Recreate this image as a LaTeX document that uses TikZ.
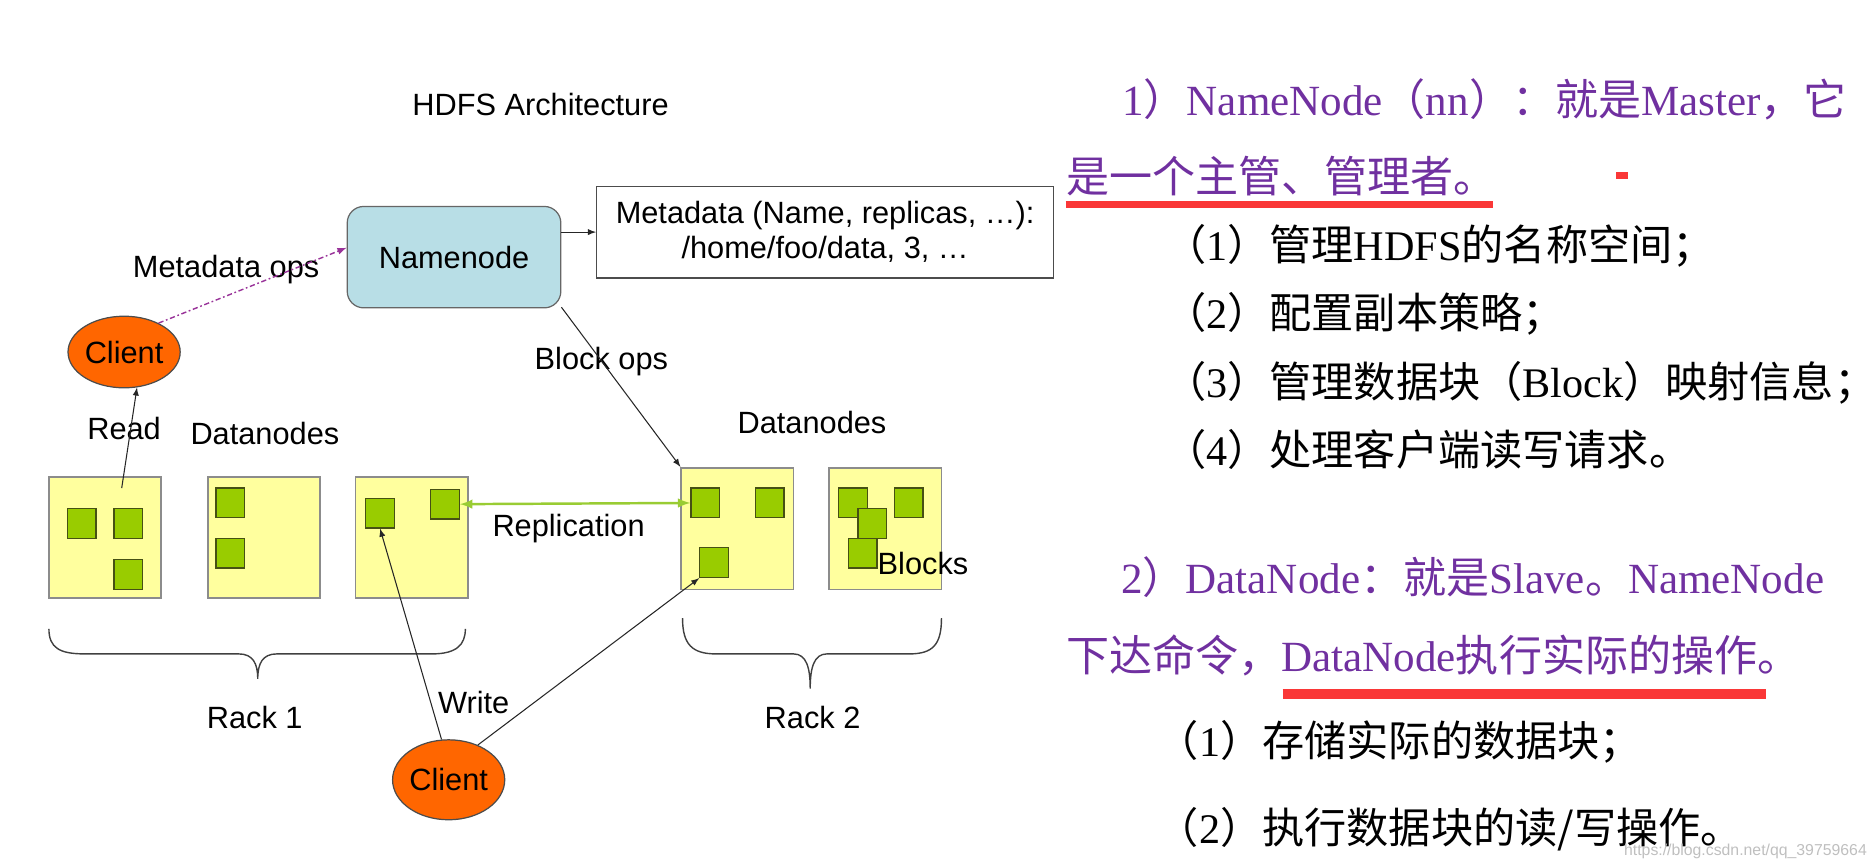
\documentclass[tikz,border=0pt]{standalone}
\usepackage{fontspec}
\setmainfont{Liberation Serif}
\setsansfont{Liberation Sans}
\newfontfamily\cjk{Noto Sans CJK SC}
\usepackage{xcolor}
\usetikzlibrary{arrows,shapes.geometric}
\definecolor{nnblue}{RGB}{184,222,230}
\definecolor{dnyellow}{RGB}{255,255,158}
\definecolor{blkgreen}{RGB}{153,204,0}
\definecolor{blkedge}{RGB}{70,80,20}
\definecolor{clorange}{RGB}{255,102,0}
\definecolor{textpurple}{RGB}{112,48,160}
\definecolor{linered}{RGB}{250,55,55}
\definecolor{repgreen}{RGB}{153,204,51}
\definecolor{opspurple}{RGB}{153,51,153}
\newcommand{\upx}{0.02386cm}

\begin{document}
\begin{tikzpicture}[x=\upx, y=-\upx, line width=0.7pt,
  lbl/.style={font=\sffamily\fontsize{17.5}{20}\selectfont, inner sep=0pt},
  namebox/.style={lbl, draw=black!60, fill=nnblue, rounded corners=0.33cm, minimum width=179*\upx, minimum height=85*\upx},
  metabox/.style={lbl, draw=black!70, fill=white, align=center, minimum width=383*\upx, minimum height=77*\upx},
  client/.style={lbl, ellipse, draw=black!70, fill=clorange, minimum width=94*\upx},
  dnbox/.style={draw=black!45, line width=1pt, fill=dnyellow, minimum width=94*\upx, minimum height=101*\upx},
  blk/.style={draw=blkedge, fill=blkgreen, inner sep=0pt, minimum width=24*\upx, minimum height=25*\upx},
  arr/.style={-latex, black!85, line width=0.6pt},
  opsarr/.style={-latex, opspurple, line width=0.8pt, dash pattern=on 3pt off 1.5pt on 1pt off 1.5pt},
  reparr/.style={latex-latex, repgreen, line width=1.4pt},
  brace/.style={black!75, line width=0.8pt},
  txt/.style={anchor=base west, inner sep=0pt, font=\fontsize{24.5}{29}\selectfont},
  itm/.style={txt, font=\fontsize{24}{29}\selectfont},
  uline/.style={linered, line width=4pt}]
\useasboundingbox (0,0) rectangle (1568,727);

\node[lbl] (title) at (453,88) {HDFS Architecture};
\node[namebox] (namenode) at (380.5,215.5) {Namenode};
\node[metabox] (meta) at (691.5,194.5) {Metadata (Name, replicas, \ldots):\\/home/foo/data, 3, \ldots};
\draw[arr] (namenode.east |- meta.west) -- (meta.west);

\node[client, minimum height=60*\upx] (client1) at (104,295) {Client};
\node[lbl] (metaops) at (189.5,226) {Metadata ops};
\draw[opsarr] (client1.40) -- (namenode.175);

\node[lbl] (read) at (104,359) {Read};
\node[lbl] (datanodes1) at (222,363) {Datanodes};
\node[lbl] (datanodes2) at (680.5,354) {Datanodes};
\node[lbl] (blockops) at (504,303) {Block ops};

\node[dnbox] (dn1) at (88,450.5) {};
\node[dnbox] (dn2) at (221,450.5) {};
\node[dnbox] (dn3) at (345,450.5) {};
\node[dnbox, minimum height=102*\upx] (dn4) at (618,443) {};
\node[dnbox, minimum height=102*\upx] (dn5) at (742,443) {};

\node[blk] (b1a) at (68.5,438.5) {};
\node[blk] (b1b) at (107.5,438.5) {};
\node[blk] (b1c) at (107.5,481.5) {};
\node[blk] (b2a) at (193,421.5) {};
\node[blk] (b2b) at (193,463.5) {};
\node[blk] (b3a) at (318.5,430) {};
\node[blk] (b3b) at (373,422.5) {};
\node[blk] (b4a) at (591,421.5) {};
\node[blk] (b4b) at (645,421.5) {};
\node[blk] (b4c) at (598.5,471.5) {};
\node[blk] (b5a) at (715,421.5) {};
\node[blk] (b5b) at (761.5,421.5) {};
\node[blk] (b5c) at (731,438.5) {};
\node[blk] (b5d) at (723,463.5) {};
\node[lbl] (blocks) at (773.5,472) {Blocks};

\coordinate (readpt) at (102,409);
\draw[arr] (readpt) -- (client1.-70);
\draw[arr] (namenode.-25) -- (dn4.north west);
\draw[reparr] (b3b.east) -- (b4a.west);
\node[lbl] (replication) at (476.5,443) {Replication};

\draw[brace] (41,527) .. controls (41,543) and (50,548) .. (71,548) -- (200,548) .. controls (212,548) and (216,556) .. (216,569) .. controls (216,556) and (220,548) .. (232,548) -- (362,548) .. controls (383,548) and (390,540) .. (390,527);
\draw[brace] (572,518) .. controls (572,540) and (580,548) .. (600,548) -- (665,548) .. controls (676,548) and (679,560) .. (679,577) .. controls (679,560) and (682,548) .. (693,548) -- (762,548) .. controls (782,548) and (789,540) .. (789,518);
\node[lbl] (rack1) at (213.5,601) {Rack 1};
\node[lbl] (rack2) at (681,601) {Rack 2};

\node[client, minimum height=67*\upx] (client2) at (376,653.5) {Client};
\node[lbl] (write) at (397,589) {Write};
\draw[arr] (client2.100) -- (b3a.south);
\draw[arr] (client2.50) -- (b4c.south west);

\node[txt, text=textpurple] (nnhead) at (940,97) {1{\cjk ）}NameNode{\cjk （}nn{\cjk ）：就是}Master{\cjk ，它}};
\node[txt, text=textpurple] (nnhead2) at (893,161) {\cjk 是一个主管、管理者。};
\draw[uline] (893,171.5) -- (1251,171.5);
\fill[linered] (1354,144) rectangle (1364,150);
\node[itm] (nnitem1) at (975,218) {{\cjk （}1{\cjk ）管理}HDFS{\cjk 的名称空间；}};
\node[itm] (nnitem2) at (975,275) {{\cjk （}2{\cjk ）配置副本策略；}};
\node[itm] (nnitem3) at (975,333) {{\cjk （}3{\cjk ）管理数据块（}Block{\cjk ）映射信息；}};
\node[itm] (nnitem4) at (975,390) {{\cjk （}4{\cjk ）处理客户端读写请求。}};

\node[txt, text=textpurple] (dnhead) at (939,497) {2{\cjk ）}DataNode{\cjk ：就是}Slave{\cjk 。}NameNode};
\node[txt, text=textpurple] (dnhead2) at (893,563) {{\cjk 下达命令，}DataNode{\cjk 执行实际的操作。}};
\draw[uline, line width=6pt] (1075,581.5) -- (1480,581.5);
\node[itm] (dnitem1) at (969,634) {{\cjk （}1{\cjk ）存储实际的数据块；}};
\node[itm] (dnitem2) at (969,707) {{\cjk （}2{\cjk ）执行数据块的读/写操作。}};

\node[anchor=base east, inner sep=0pt, text=black!25, font=\sffamily\fontsize{9}{10}\selectfont] (mark) at (1565,717) {https://blog.csdn.net/qq\_39759664};
\end{tikzpicture}
\end{document}
